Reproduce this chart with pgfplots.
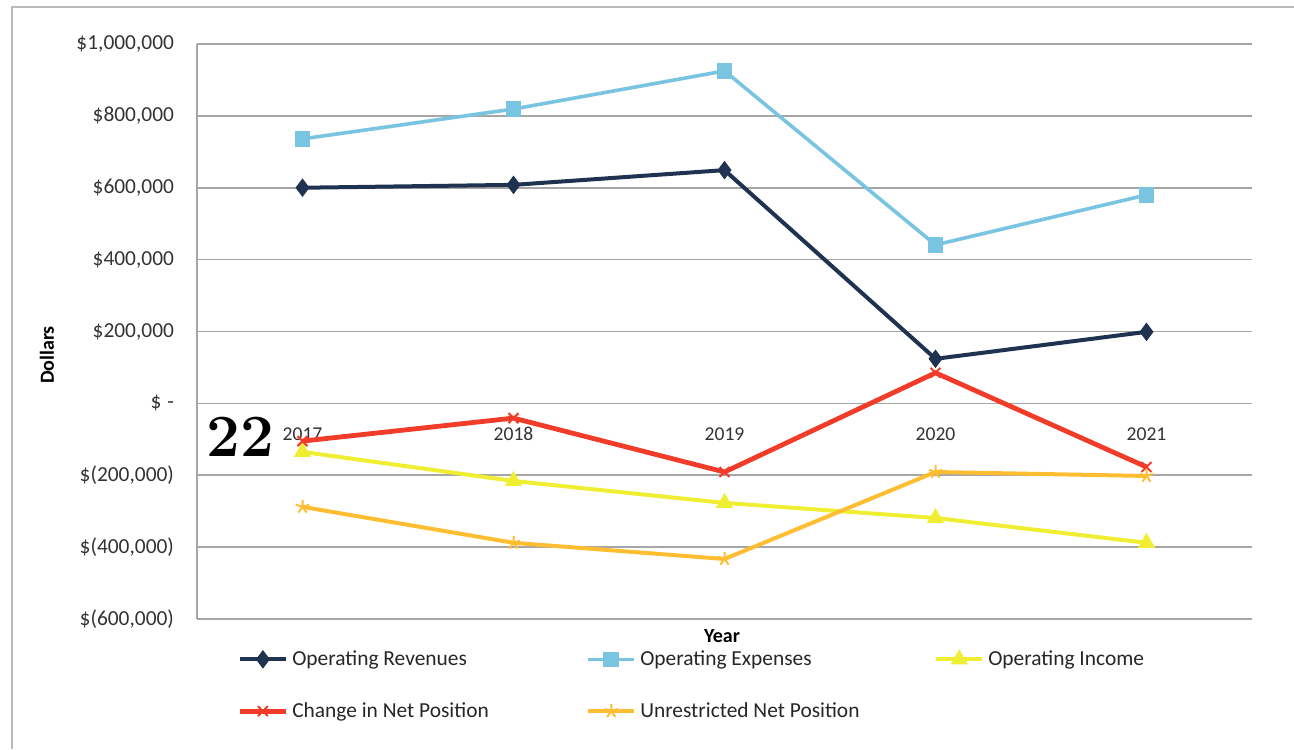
\documentclass[border=0pt]{standalone}
\usepackage{pgfplots}
\pgfplotsset{compat=1.18}
\usepackage{fontspec}
\setmainfont{Carlito}
\definecolor{navy}{RGB}{31,51,80}
\definecolor{lblue}{RGB}{120,196,225}
\definecolor{yel}{RGB}{240,238,50}
\definecolor{redc}{RGB}{240,60,40}
\definecolor{orng}{RGB}{255,190,50}
\begin{document}
\begin{tikzpicture}[x=1pt,y=1pt]
\useasboundingbox (0,0) rectangle (647,374.5);
\draw[gray!55, line width=1pt] (6,0) -- (6,371) -- (647,371);
\begin{axis}[
  at={(98.5pt,65pt)}, anchor=south west,
  scale only axis, width=527.5pt, height=287.5pt,
  xmin=-0.5, xmax=4.5, ymin=-600000, ymax=1000000,
  axis y line=left, axis x line=middle,
  axis line style={-, gray!70, line width=0.8pt},
  xtick={0,1,2,3,4}, xticklabels={2017,2018,2019,2020,2021},
  ytick={-600000,-400000,-200000,0,200000,400000,600000,800000,1000000},
  yticklabels={{\$(600,000)},{\$(400,000)},{\$(200,000)},{\$\hspace{3pt}-\hspace{9pt}},{\$200,000\hspace{2.5pt}},{\$400,000\hspace{2.5pt}},{\$600,000\hspace{2.5pt}},{\$800,000\hspace{2.5pt}},{\$1,000,000\hspace{2.5pt}}},
  scaled y ticks=false,
  ymajorgrids, grid style={gray!70, line width=0.8pt},
  major tick length=0pt,
  yticklabel style={font=\fontsize{10.7}{12}\selectfont, text=black!80, xshift=-8pt},
  xticklabel style={font=\fontsize{9.8}{11}\selectfont, text=black!80, anchor=north, yshift=-8.5pt},
  clip=false,
  legend columns=3,
  legend cell align=left,
  legend image code/.code={\draw[mark repeat=2,mark phase=2,#1] plot coordinates {(0pt,0pt) (11.5pt,0pt) (23pt,0pt)};},
  legend style={draw=none, fill=none, inner sep=0pt,
    at={(axis description cs:0.038,-0.047)}, anchor=north west,
    font=\fontsize{10.7}{12}\selectfont, text=black!85,
    /tikz/every even column/.append style={column sep=5pt},
    row sep=13pt},
]
\addplot[navy, line width=2pt, mark=diamond*, mark size=3pt, mark options={fill=navy}]
  coordinates {(0,600000) (1,608000) (2,649000) (3,124000) (4,199000)};
\addlegendentry{\makebox[140pt][l]{Operating Revenues}}
\addplot[lblue, line width=1.8pt, mark=square*, mark size=3pt, mark options={fill=lblue}]
  coordinates {(0,736000) (1,819000) (2,925000) (3,441000) (4,580000)};
\addlegendentry{\makebox[140pt][l]{Operating Expenses}}
\addplot[yel, line width=2pt, mark=triangle*, mark size=3pt, mark options={fill=yel}]
  coordinates {(0,-135000) (1,-216000) (2,-277000) (3,-319000) (4,-388000)};
\addlegendentry{Operating Income}
\addplot[redc, line width=2.4pt, mark=x, mark size=3.5pt, mark options={line width=1pt}]
  coordinates {(0,-105000) (1,-41000) (2,-191000) (3,85000) (4,-177000)};
\addlegendentry{\makebox[140pt][l]{Change in Net Position}}
\addplot[orng, line width=2pt, mark=star, mark size=3.5pt, mark options={line width=1pt}]
  coordinates {(0,-288000) (1,-388000) (2,-433000) (3,-191000) (4,-202000)};
\addlegendentry{\makebox[140pt][l]{Unrestricted Net Position}}
\end{axis}
\node[font=\bfseries\fontsize{10}{12}\selectfont] at (361,56.5) {Year};
\node[font=\bfseries\fontsize{10}{12}\selectfont, rotate=90] at (23.5,197) {Dollars};
\node[font=\rmfamily\fontsize{30}{32}\selectfont] at (120,156) {\fontspec{Latin Modern Roman}\bfseries 22};
\end{tikzpicture}
\end{document}
